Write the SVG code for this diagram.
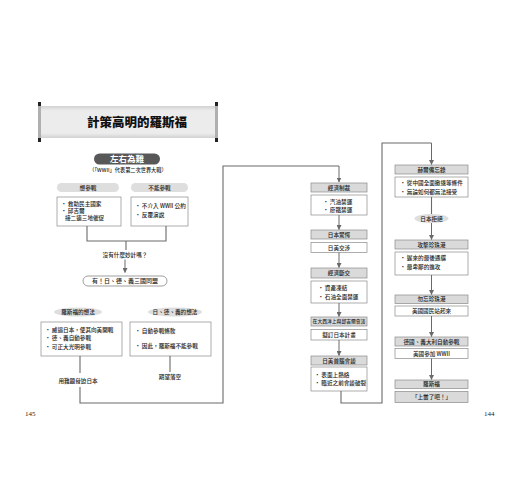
<svg xmlns="http://www.w3.org/2000/svg" width="520" height="500" viewBox="0 0 520 500">
<defs>
<style>
text{font-family:"Noto Sans CJK TC","Noto Sans CJK SC",sans-serif;fill:#222;font-weight:500;}
.s{font-size:5.6px;}
.h{font-size:5.6px;text-anchor:middle;}
.c{text-anchor:middle;}
.hdr{fill:#dadada;stroke:#8a8a8a;stroke-width:0.7;}
.box{fill:#fff;stroke:#8a8a8a;stroke-width:0.7;}
.pill{fill:#dedede;}
.ln{fill:none;stroke:#6a6a6a;stroke-width:1.1;}
.ar{fill:none;stroke:#6a6a6a;stroke-width:1;marker-end:url(#ah);}
.pg{font-family:"Liberation Serif",serif;font-size:7px;fill:#222;}
</style>
<marker id="ah" viewBox="0 0 10 10" refX="9" refY="5" markerWidth="5" markerHeight="5" orient="auto" markerUnits="userSpaceOnUse">
<path d="M0,0 L10,5 L0,10 z" fill="#6a6a6a"/>
</marker>
<linearGradient id="paper" x1="0" y1="0" x2="0" y2="1">
<stop offset="0" stop-color="#d2d2d2"/>
<stop offset="0.15" stop-color="#ececec"/>
<stop offset="0.85" stop-color="#ececec"/>
<stop offset="1" stop-color="#d2d2d2"/>
</linearGradient>
</defs>
<rect width="520" height="500" fill="#fff"/>

<g id="banner">
<rect x="40" y="106" width="176" height="32" fill="url(#paper)"/>
<rect x="38" y="103" width="3" height="38" fill="#b0b0b0"/>
<rect x="38" y="102" width="3" height="4" fill="#222"/>
<rect x="38" y="138" width="3" height="4" fill="#222"/>
<rect x="215" y="103" width="3" height="38" fill="#b0b0b0"/>
<rect x="215" y="102" width="3" height="4" fill="#222"/>
<rect x="215" y="138" width="3" height="4" fill="#222"/>
<text x="137" y="126.5" class="c" style="font-size:12.5px;font-weight:900;fill:#111;">計策高明的羅斯福</text>
</g>

<g id="dilemma">
<rect x="94" y="153.5" width="66" height="11" rx="5.5" fill="#585858"/>
<text x="127" y="162" class="c" style="font-size:8.5px;font-weight:bold;fill:#fff;">左右為難</text>
<text x="128" y="171.5" class="c" style="font-size:5.2px;">（「WWII」代表第二次世界大戰）</text>
</g>

<g id="want">
<rect x="57" y="183" width="62" height="9" rx="4.5" class="pill"/>
<text x="88" y="189.6" class="h">想參戰</text>
<rect x="57" y="197" width="64" height="29" class="box"/>
<text x="61" y="205.5" class="s">• 救助民主國家</text>
<text x="61" y="212.5" class="s">• 邱吉爾</text>
<text x="65" y="219.5" class="s">接二連三地催促</text>
</g>

<g id="cannot">
<rect x="131" y="183" width="57" height="9" rx="4.5" class="pill"/>
<text x="159.5" y="189.6" class="h">不能參戰</text>
<rect x="131" y="197" width="57" height="29" class="box"/>
<text x="135" y="207.5" class="s">• 不介入 WWII 公約</text>
<text x="135" y="216.5" class="s">• 反覆演說</text>
</g>

<g id="question">
<text x="125" y="256.5" class="h">沒有什麼妙計嗎？</text>
</g>

<g id="axis">
<rect x="83" y="276" width="84" height="10" rx="5" fill="#fff" stroke="#777" stroke-width="0.7"/>
<text x="125" y="283.2" class="c" style="font-size:6px;">有！日、德、義三國同盟</text>
</g>

<g id="fdr-idea">
<ellipse cx="78" cy="312" rx="24" ry="4.6" class="pill"/>
<text x="78" y="314" class="h">羅斯福的想法</text>
<rect x="41" y="322" width="81" height="34" class="box"/>
<text x="45" y="332" class="s">• 威逼日本，使其向美開戰</text>
<text x="45" y="340" class="s">• 德、義自動參戰</text>
<text x="45" y="348.5" class="s">• 可正大光明參戰</text>
<text x="78" y="382.5" class="h">用難題脅迫日本</text>
</g>

<g id="axis-idea">
<ellipse cx="175" cy="312" rx="27" ry="4.6" class="pill"/>
<text x="175" y="314" class="h">日、德、義的想法</text>
<rect x="130" y="322" width="81" height="34" class="box"/>
<text x="135" y="333" class="s">• 自動參戰條款</text>
<text x="135" y="348" class="s">• 因此，羅斯福不能參戰</text>
<text x="170" y="379" class="h">期望落空</text>
</g>

<g id="sanctions">
<rect x="311" y="183" width="56" height="9" class="hdr"/>
<text x="339" y="189.6" class="h">經濟制裁</text>
<rect x="311" y="195" width="56" height="20" class="box"/>
<text x="323" y="204" class="s">• 汽油禁運</text>
<text x="323" y="212" class="s">• 廢鐵禁運</text>
</g>
<g id="shock">
<rect x="311" y="230" width="56" height="9" class="hdr"/>
<text x="339" y="236.6" class="h">日本驚愕</text>
<rect x="311" y="242.5" width="56" height="10" class="box"/>
<text x="339" y="249.6" class="h">日美交涉</text>
</g>
<g id="break">
<rect x="311" y="268" width="56" height="10" class="hdr"/>
<text x="339" y="275.1" class="h">經濟斷交</text>
<rect x="311" y="281" width="56" height="22" class="box"/>
<text x="318" y="289.5" class="s">• 資產凍結</text>
<text x="318" y="298.5" class="s">• 石油全面禁運</text>
</g>
<g id="atlantic">
<rect x="311" y="317" width="56" height="9" class="hdr"/>
<text x="339" y="323.3" class="c" style="font-size:4.8px;">在大西洋上與邱吉爾會談</text>
<rect x="311" y="329.5" width="56" height="10.5" class="box"/>
<text x="339" y="336.8" class="h">擬訂日本計畫</text>
</g>
<g id="summit">
<rect x="311" y="356" width="56" height="9" class="hdr"/>
<text x="339" y="362.6" class="h">日美首腦會談</text>
<rect x="311" y="367" width="56" height="24" class="box"/>
<text x="314.5" y="376.5" class="s">• 表面上熱絡</text>
<text x="314.5" y="385" class="s">• 臨近之前會談破裂</text>
</g>

<g id="hull">
<rect x="395" y="165" width="73" height="9" class="hdr"/>
<text x="431.5" y="171.6" class="h">赫爾備忘錄</text>
<rect x="395" y="177" width="73" height="20" class="box"/>
<text x="400" y="185" class="s">• 從中國全面撤退等條件</text>
<text x="400" y="194" class="s">• 無論如何都無法接受</text>
</g>
<g id="refuse">
<ellipse cx="431.5" cy="218.5" rx="17" ry="4.6" class="pill"/>
<text x="431.5" y="220.5" class="h">日本拒絕</text>
</g>
<g id="pearl">
<rect x="395" y="240" width="73" height="9" class="hdr"/>
<text x="431.5" y="246.6" class="h">攻擊珍珠港</text>
<rect x="395" y="252" width="73" height="23" class="box"/>
<text x="400" y="260" class="s">• 遲來的最後通牒</text>
<text x="400" y="269" class="s">• 最卑鄙的進攻</text>
</g>
<g id="remember">
<rect x="395" y="295" width="73" height="8.5" class="hdr"/>
<text x="431.5" y="301.3" class="h">勿忘珍珠港</text>
<rect x="395" y="306" width="73" height="10" class="box"/>
<text x="431.5" y="313.1" class="h">美國國民站起來</text>
</g>
<g id="join">
<rect x="395" y="337" width="73" height="9" class="hdr"/>
<text x="431.5" y="343.6" class="h">德國、義大利自動參戰</text>
<rect x="395" y="348.5" width="73" height="10" class="box"/>
<text x="431.5" y="355.6" class="h">美國參加 WWII</text>
</g>
<g id="fdr">
<rect x="395" y="380" width="73" height="8.5" class="hdr"/>
<text x="431.5" y="386.3" class="h">羅斯福</text>
<rect x="395" y="391.5" width="73" height="11" class="hdr"/>
<text x="431.5" y="399" class="h">「上當了吧！」</text>
</g>

<g id="connectors">
<path class="ln" d="M87,226 V241 H166 V226 M126,241 V250"/>
<path class="ar" d="M125,259.5 V272.5"/>
<path class="ln" d="M80,356 V373 M80,387 V403 H223 V166 H339"/>
<path class="ar" d="M339,166 V182"/>
<path class="ln" d="M170,356 V372"/>
<path class="ar" d="M339,215 V229.5"/>
<path class="ar" d="M339,252.5 V267.5"/>
<path class="ar" d="M339,303 V316.5"/>
<path class="ar" d="M339,340 V355.5"/>
<path class="ln" d="M341,391 V403 H382 V143 H431.5"/>
<path class="ar" d="M431.5,143 V164.5"/>
<path class="ln" d="M431.5,197 V214"/>
<path class="ar" d="M431.5,223 V239.5"/>
<path class="ar" d="M431.5,275 V294.5"/>
<path class="ar" d="M431.5,316 V336.5"/>
<path class="ar" d="M431.5,358.5 V379.5"/>
</g>

<text x="25" y="416" class="pg">145</text>
<text x="484" y="416" class="pg">144</text>
</svg>
